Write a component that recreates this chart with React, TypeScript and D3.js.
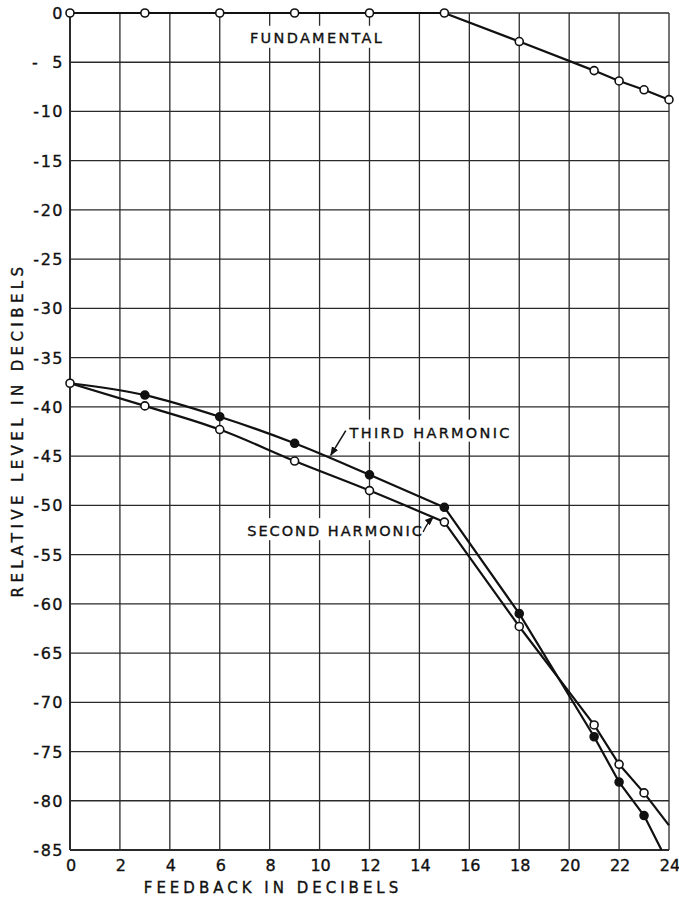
import { useEffect, useRef } from 'react';
import * as d3 from 'd3';

// Feedback (dB) on x, relative level (dB) on y
const feedbackTicks = [0, 2, 4, 6, 8, 10, 12, 14, 16, 18, 20, 22, 24];
const levelTicks = [0, -5, -10, -15, -20, -25, -30, -35, -40, -45, -50, -55, -60, -65, -70, -75, -80, -85];
const levelTickLabels = ['0', '-  5', '-10', '-15', '-20', '-25', '-30', '-35', '-40', '-45', '-50', '-55', '-60', '-65', '-70', '-75', '-80', '-85'];

const fundamentalX = [0, 3, 6, 9, 12, 15, 18, 21, 22, 23, 24];
const fundamentalY = [0, 0, 0, 0, 0, 0, -2.9, -5.85, -6.9, -7.8, -8.8];

const secondX = [0, 3, 6, 9, 12, 15, 18, 21, 22, 23, 24];
const secondY = [-37.6, -39.9, -42.3, -45.5, -48.5, -51.7, -62.3, -72.3, -76.3, -79.2, -82.5];

const thirdX = [0, 3, 6, 9, 12, 15, 18, 21, 22, 23, 23.7];
const thirdY = [-37.6, -38.8, -41.0, -43.7, -46.9, -50.2, -61.0, -73.5, -78.1, -81.5, -85];

const FONT = '"DejaVu Sans", "Liberation Sans", sans-serif';

export default function App() {
  const svgRef = useRef<SVGSVGElement>(null);

  useEffect(() => {
    if (!svgRef.current) return;
    const svg = d3.select(svgRef.current);
    svg.selectAll('*').remove();

    const width = 679;
    const height = 899;
    const margin = { top: 13, right: 10, bottom: 49, left: 70 };

    svg.attr('width', width).attr('height', height);
    svg.append('rect').attr('width', width).attr('height', height).attr('fill', '#fff');

    const x = d3.scaleLinear().domain([0, 24]).range([margin.left, width - margin.right]);
    const y = d3.scaleLinear().domain([-85, 0]).range([height - margin.bottom, margin.top]);

    const defs = svg.append('defs');
    defs.append('marker')
      .attr('id', 'arrow')
      .attr('viewBox', '0 0 10 10')
      .attr('refX', 9)
      .attr('refY', 5)
      .attr('markerWidth', 9)
      .attr('markerHeight', 9)
      .attr('markerUnits', 'userSpaceOnUse')
      .attr('orient', 'auto')
      .append('path')
      .attr('d', 'M0,1 L10,5 L0,9 Z')
      .attr('fill', '#111');

    // Grid
    const grid = svg.append('g');
    grid.selectAll('.vgrid')
      .data(feedbackTicks)
      .enter()
      .append('line')
      .attr('x1', d => x(d))
      .attr('x2', d => x(d))
      .attr('y1', y(0))
      .attr('y2', y(-85))
      .attr('stroke', '#2a2a2a')
      .attr('stroke-width', d => (d === 0 ? 2 : 1.3));

    grid.selectAll('.hgrid')
      .data(levelTicks)
      .enter()
      .append('line')
      .attr('x1', x(0))
      .attr('x2', x(24))
      .attr('y1', d => y(d))
      .attr('y2', d => y(d))
      .attr('stroke', '#2a2a2a')
      .attr('stroke-width', d => (d === -85 ? 2.2 : 1.3));

    const textStyle = (sel: any, size: number, spacing: number) =>
      sel.style('font-family', FONT)
        .style('font-size', `${size}px`)
        .style('letter-spacing', `${spacing}px`)
        .style('white-space', 'pre')
        .attr('fill', '#111')
        .attr('stroke', '#111')
        .attr('stroke-width', 0.35);

    // Tick labels
    svg.append('g')
      .selectAll('text')
      .data(levelTicks)
      .enter()
      .append('text')
      .attr('x', x(0) - 6)
      .attr('y', d => y(d) + 6)
      .attr('text-anchor', 'end')
      .call(textStyle, 16, 1.5)
      .text((d, i) => levelTickLabels[i]);

    svg.append('g')
      .selectAll('text')
      .data(feedbackTicks)
      .enter()
      .append('text')
      .attr('x', d => x(d) + 1)
      .attr('y', y(-85) + 21)
      .attr('text-anchor', 'middle')
      .call(textStyle, 16, 0)
      .text(d => String(d));

    // Axis titles
    svg.append('text')
      .attr('x', 273)
      .attr('y', 893)
      .attr('text-anchor', 'middle')
      .call(textStyle, 15, 4)
      .text('FEEDBACK IN DECIBELS');

    svg.append('text')
      .attr('transform', 'translate(23,430) rotate(-90)')
      .attr('text-anchor', 'middle')
      .call(textStyle, 15, 4.4)
      .text('RELATIVE LEVEL IN DECIBELS');

    const zip = (xs: number[], ys: number[]) => xs.map((v, i) => [v, ys[i]] as [number, number]);

    const smooth = d3.line<[number, number]>()
      .x(d => x(d[0]))
      .y(d => y(d[1]))
      .curve(d3.curveMonotoneX);
    const straight = d3.line<[number, number]>()
      .x(d => x(d[0]))
      .y(d => y(d[1]));

    const drawCurve = (pts: [number, number][]) => {
      const bend = pts.findIndex(p => p[0] === 15);
      svg.append('path')
        .attr('d', smooth(pts.slice(0, bend + 1)))
        .attr('fill', 'none')
        .attr('stroke', '#111')
        .attr('stroke-width', 2.2);
      svg.append('path')
        .attr('d', straight(pts.slice(bend)))
        .attr('fill', 'none')
        .attr('stroke', '#111')
        .attr('stroke-width', 2.2)
        .attr('stroke-linejoin', 'round');
    };

    const fundamental = zip(fundamentalX, fundamentalY);
    const second = zip(secondX, secondY);
    const third = zip(thirdX, thirdY);

    drawCurve(fundamental);
    drawCurve(second);
    drawCurve(third);

    const drawMarkers = (pts: [number, number][], filled: boolean) => {
      svg.append('g')
        .selectAll('circle')
        .data(pts)
        .enter()
        .append('circle')
        .attr('cx', d => x(d[0]))
        .attr('cy', d => y(d[1]))
        .attr('r', 4)
        .attr('fill', filled ? '#111' : '#fff')
        .attr('stroke', '#111')
        .attr('stroke-width', 1.6);
    };

    drawMarkers(fundamental, false);
    drawMarkers(third.slice(1, 10), true);
    drawMarkers(second.slice(0, 10), false);

    // Labels
    const label = (tx: number, ty: number, txt: string, anchor = 'start', spacing = 2.3) =>
      svg.append('text')
        .attr('x', x(tx))
        .attr('y', y(ty) + 6)
        .attr('text-anchor', anchor)
        .call(textStyle, 14.5, spacing)
        .text(txt);

    svg.append('rect')
      .attr('x', x(11.05))
      .attr('y', y(-41.3))
      .attr('width', 168)
      .attr('height', 22)
      .attr('fill', '#fff');
    label(11.2, -42.5, 'THIRD HARMONIC');

    svg.append('rect')
      .attr('x', x(7.0))
      .attr('y', y(-51.3))
      .attr('width', 172)
      .attr('height', 22)
      .attr('fill', '#fff');
    label(7.1, -52.5, 'SECOND HARMONIC', 'start', 2.0);

    svg.append('rect')
      .attr('x', x(7.3))
      .attr('y', y(-1.3))
      .attr('width', 145)
      .attr('height', 22)
      .attr('fill', '#fff');
    label(9.9, -2.4, 'FUNDAMENTAL', 'middle');

    // Arrows
    svg.append('line')
      .attr('x1', x(11.05))
      .attr('y1', y(-42.4))
      .attr('x2', x(10.45))
      .attr('y2', y(-44.9))
      .attr('stroke', '#111')
      .attr('stroke-width', 1.5)
      .attr('marker-end', 'url(#arrow)');

    svg.append('path')
      .attr('d', `M${x(14.15)},${y(-52.7)} Q${x(14.3)},${y(-51.8)} ${x(14.55)},${y(-51.2)}`)
      .attr('fill', 'none')
      .attr('stroke', '#111')
      .attr('stroke-width', 1.3)
      .attr('marker-end', 'url(#arrow)');
  }, []);

  return (
    <svg
      ref={svgRef}
      style={{ position: 'absolute', left: 0, top: 0, display: 'block' }}
    />
  );
}
